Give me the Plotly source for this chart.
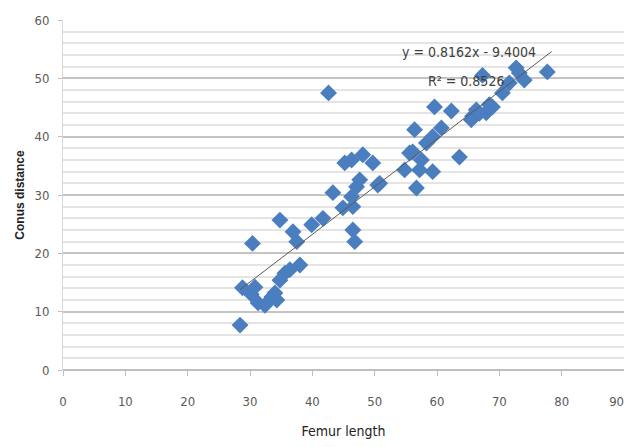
import plotly.graph_objects as go

femur_length = [28.4, 28.8, 30.2, 30.4, 30.8, 31.3, 32.4, 33.5, 34.0, 34.3, 34.8, 34.8,
                35.6, 36.4, 36.9, 37.5, 38.0, 39.9, 41.7, 42.6, 43.3, 44.9, 45.2, 46.3,
                46.3, 46.5, 46.5, 46.8, 47.1, 47.6, 48.1, 49.7, 50.5, 50.8, 54.8, 55.6,
                56.1, 56.4, 56.7, 57.2, 57.5, 58.3, 59.3, 59.3, 59.6, 60.7, 62.3, 63.6,
                65.5, 65.7, 66.3, 66.8, 67.3, 67.9, 68.4, 68.9, 70.5, 71.6, 72.7, 73.2,
                74.0, 77.7]
conus_distance = [7.7, 14.1, 13.0, 21.7, 14.2, 11.5, 11.1, 12.5, 13.2, 12.0, 25.7, 15.4,
                  16.6, 17.2, 23.7, 22.0, 18.0, 24.9, 26.0, 47.5, 30.4, 27.8, 35.5, 36.0,
                  29.7, 28.0, 24.0, 22.0, 31.4, 32.6, 36.9, 35.5, 31.7, 32.0, 34.3, 37.2,
                  37.4, 41.2, 31.2, 34.3, 36.0, 38.9, 40.0, 34.0, 45.1, 41.5, 44.4, 36.5,
                  42.9, 43.5, 44.6, 44.0, 50.5, 44.1, 45.5, 45.1, 47.5, 49.2, 51.8, 50.9,
                  49.7, 51.1]

slope = 0.8162
intercept = -9.4004
trend_x = [28.4, 78.4]
eq_text = "y = 0.8162x - 9.4004"
r2_text = "R² = 0.8526"

x_ticks = list(range(0, 91, 10))
y_ticks = list(range(0, 61, 10))

font_fam = "Liberation Sans Narrow, DejaVu Sans Condensed, Roboto Condensed, Liberation Sans, sans-serif"

# last x label padded on the right so the centred text stays inside the page
x_ticktext = [str(v) for v in x_ticks]
x_ticktext[-1] = x_ticktext[-1] + "\u2007\u2007"

fig = go.Figure()

fig.add_trace(go.Scatter(
    x=femur_length, y=conus_distance, mode="markers",
    marker=dict(symbol="diamond", size=13, color="#4a7ebf",
                line=dict(width=0)),
    showlegend=False, hoverinfo="skip"))

fig.add_trace(go.Scatter(
    x=trend_x, y=[slope * v + intercept for v in trend_x], mode="lines",
    line=dict(color="#5a5a5a", width=1),
    showlegend=False, hoverinfo="skip"))

fig.add_annotation(x=65.2, y=54.6, text=eq_text, showarrow=False,
                   font=dict(family=font_fam, size=14, color="#404040"))
fig.add_annotation(x=64.7, y=49.5, text=r2_text, showarrow=False,
                   font=dict(family=font_fam, size=14, color="#404040"))

fig.update_xaxes(
    range=[0, 90], tickvals=x_ticks, ticktext=x_ticktext,
    showgrid=False, zeroline=False, automargin=False,
    showline=False, ticks="outside", ticklen=5, tickcolor="#bfbfbf",
    ticklabelstandoff=14, ticklabeloverflow="allow",
    tickfont=dict(family=font_fam, size=13, color="#595959"),
    title=dict(text="Femur length", font=dict(family=font_fam, size=14, color="#222222"),
               standoff=22),
)
fig.update_yaxes(
    range=[0, 60], tickvals=y_ticks, ticktext=[str(v) for v in y_ticks],
    showgrid=True, gridcolor="#c4c4c4", gridwidth=2,
    minor=dict(dtick=2, showgrid=True, gridcolor="#e4e4e4", gridwidth=1.5),
    zeroline=True, zerolinecolor="#bfbfbf", zerolinewidth=2,
    showline=True, linecolor="#d9d9d9", linewidth=1, automargin=False,
    ticks="outside", ticklen=4, tickcolor="#bfbfbf",
    ticklabelstandoff=6,
    tickfont=dict(family=font_fam, size=13, color="#595959"),
    title=dict(text="<b>Conus distance</b>", font=dict(family="Liberation Sans, Arial, sans-serif", size=12, color="#222222"),
               standoff=7),
)

# page body has an 8px default margin; compensate so the plot area lands where the reference's does
fig.update_layout(
    width=624, height=431,
    margin=dict(l=55, r=8, t=12, b=69),
    plot_bgcolor="white", paper_bgcolor="white",
)

fig.write_html("out.html")
